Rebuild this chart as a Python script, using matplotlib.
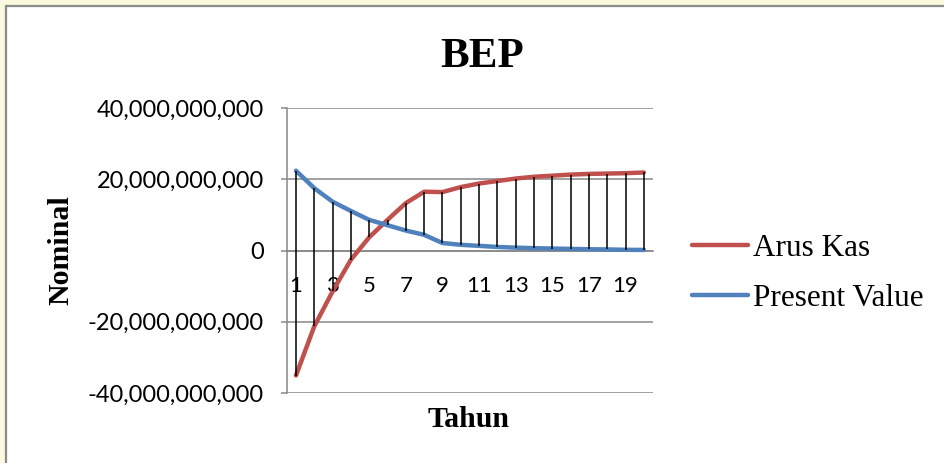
import numpy as np
import matplotlib
matplotlib.use('Agg')
from matplotlib import pyplot as plt
from matplotlib.patches import Rectangle
from matplotlib.ticker import FuncFormatter

# tahun ke-1 .. ke-20
tahun = list(range(1, 21))
# nilai dalam milyar rupiah
arus_kas = [-35.1, -21.3, -11.5, -2.6, 3.7, 8.6, 13.3, 16.5, 16.4, 17.8,
            18.8, 19.5, 20.2, 20.7, 21.0, 21.3, 21.5, 21.6, 21.7, 21.9]
present_value = [22.4, 17.5, 13.7, 11.1, 8.6, 7.1, 5.6, 4.4, 2.1, 1.6,
                 1.3, 1.0, 0.8, 0.65, 0.55, 0.45, 0.35, 0.3, 0.2, 0.15]
label_x = [1, 3, 5, 7, 9, 11, 13, 15, 17, 19]
label_y = [-40e9, -20e9, 0, 20e9, 40e9]


def main():
    W, H = 945, 463
    fig = plt.figure(figsize=(W / 100, H / 100), dpi=100)
    fig.patch.set_facecolor('#fbf9de')

    # kotak putih chart area
    box = Rectangle((6 / W, -0.05), 1.1, 1.05 - 6 / H, transform=fig.transFigure,
                    facecolor='white', edgecolor='#8c8c8c', linewidth=1.6, zorder=-10)
    fig.patches.append(box)

    ax = fig.add_axes([286.8 / W, 1 - 393 / H, (653 - 286.8) / W, (393 - 108) / H])
    ax.set_facecolor('none')

    x = np.array(tahun)
    ak = np.array(arus_kas) * 1e9
    pv = np.array(present_value) * 1e9

    ax.plot(x, ak, color='#c0504d', lw=3.2, solid_capstyle='round', solid_joinstyle='round',
            label='Arus Kas', zorder=3)
    ax.plot(x, pv, color='#4f81bd', lw=3.2, solid_capstyle='round', solid_joinstyle='round',
            label='Present Value', zorder=3)
    # high-low lines
    ax.vlines(x, np.minimum(ak, pv), np.maximum(ak, pv), color='black', lw=1.1, zorder=4)

    ax.set_xlim(0.5, 20.5)
    ax.set_ylim(-40e9, 40e9)
    ax.set_yticks(label_y)
    ax.yaxis.set_major_formatter(FuncFormatter(lambda v, p: '{:,.0f}'.format(v)))
    ax.set_xticks(label_x)
    ax.set_xticklabels([str(t) for t in label_x])

    ax.grid(axis='y', color='#878787', lw=1.1, zorder=1)
    ax.set_axisbelow(True)
    for s in ['top', 'right']:
        ax.spines[s].set_visible(False)
    ax.spines['left'].set_color('#878787')
    ax.spines['left'].set_linewidth(1.1)
    ax.spines['bottom'].set_position(('data', 0))
    ax.spines['bottom'].set_color('#878787')
    ax.spines['bottom'].set_linewidth(1.1)

    ax.tick_params(axis='y', length=4.5, width=1.1, color='#878787', pad=12,
                   labelsize=17)
    ax.tick_params(axis='x', length=0, pad=18, labelsize=16)
    for t in ax.get_xticklabels() + ax.get_yticklabels():
        t.set_fontfamily('Lato')

    serif = 'Liberation Serif'
    fig.text(482 / W, 1 - 66.7 / H, 'BEP', family=serif, weight='bold', fontsize=31,
             ha='center', va='baseline')
    fig.text(61 / W, 1 - 250.5 / H, 'Nominal', family=serif, weight='bold', fontsize=21.5,
             rotation=90, ha='center', va='center')
    fig.text(469 / W, 1 - 426.7 / H, 'Tahun', family=serif, weight='bold', fontsize=21.5,
             ha='center', va='baseline')

    fig.legend(loc='center left', bbox_to_anchor=(692 / W, 1 - 273.7 / H), frameon=False,
               prop={'family': serif, 'size': 22.5}, handlelength=1.8, handletextpad=0.15,
               borderpad=0, borderaxespad=0, labelspacing=0.66)

    fig.savefig('out.png', dpi=100, facecolor=fig.get_facecolor())


if __name__ == '__main__':
    main()
